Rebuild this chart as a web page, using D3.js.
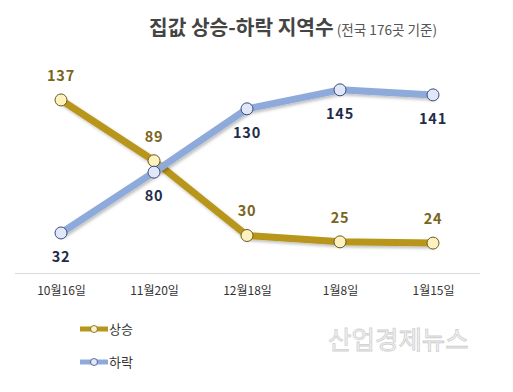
<!DOCTYPE html>
<html><head><meta charset="utf-8">
<script src="https://cdn.jsdelivr.net/npm/d3@7"></script>
<style>body{margin:0;background:#fff;}svg{display:block;}</style>
</head><body>
<svg id="c" width="513" height="392"></svg>
<script>
const categories = ["10월16일","11월20일","12월18일","1월8일","1월15일"];
const riseValues = [137, 89, 30, 25, 24];
const fallValues = [32, 80, 130, 145, 141];
const seriesNames = ["상승","하락"];

const svg = d3.select("#c");
const font = "'Noto Sans CJK KR','Noto Sans',sans-serif";

const defs = svg.append("defs");
const f = defs.append("filter").attr("id","sh").attr("x","-20%").attr("y","-20%").attr("width","140%").attr("height","160%");
f.append("feDropShadow").attr("dx",1.5).attr("dy",2).attr("stdDeviation",1.5).attr("flood-color","#000").attr("flood-opacity",0.25);

const x = d3.scalePoint().domain(categories).range([61,433]);
const y = d3.scaleLinear().domain([0,150]).range([273.5,273.5-150*1.2667]);

// title
const t = svg.append("text").attr("x",149).attr("y",35).attr("font-family",font);
t.append("tspan").text("집값 상승-하락 지역수").attr("font-size",20.3).attr("font-weight","bold").attr("fill","#444");
t.append("tspan").text(" (전국 176곳 기준)").attr("font-size",13.6).attr("fill","#555");

// axis
const xAxis = d3.axisBottom(x).tickSize(0).tickPadding(13);
const ax = svg.append("g").attr("transform","translate(0,273.5)").call(xAxis);
ax.select(".domain").remove();
ax.append("line").attr("x1",15).attr("x2",480).attr("stroke","#d9d9d9").attr("stroke-width",1);
ax.selectAll(".tick text").attr("font-family",font).attr("font-size",12).attr("fill","#333");

const line = d3.line().x((d,i)=>x(categories[i])).y(d=>y(d));

const series = [
  {name:seriesNames[0], vals:riseValues, color:"#b8961c", fill:"#fdf1bd", stroke:"#6b5a24", lab:"#7a6420", above:true},
  {name:seriesNames[1], vals:fallValues, color:"#8eaada", fill:"#dfe7f8", stroke:"#3b4b7e", lab:"#1f2d4a", above:false}
];

series.forEach(s=>{
  svg.append("path").datum(s.vals).attr("d",line).attr("fill","none")
    .attr("stroke",s.color).attr("stroke-width",7).attr("stroke-linejoin","round").attr("filter","url(#sh)");
});
series.forEach(s=>{
  svg.append("g").selectAll("circle").data(s.vals).join("circle")
    .attr("cx",(d,i)=>x(categories[i])).attr("cy",d=>y(d)).attr("r",6)
    .attr("fill",s.fill).attr("stroke",s.stroke).attr("stroke-width",1);
});
series.forEach(s=>{
  svg.append("g").selectAll("text").data(s.vals).join("text")
    .attr("x",(d,i)=>x(categories[i])).attr("y",d=>s.above? y(d)-19 : y(d)+29)
    .attr("text-anchor","middle").attr("font-family",font).attr("font-size",14.5).attr("font-weight","bold")
    .attr("fill",s.lab).attr("letter-spacing",0.8).text(d=>d);
});

// legend
series.forEach((s,i)=>{
  const ly = 329 + i*33;
  svg.append("line").attr("x1",80).attr("x2",108).attr("y1",ly).attr("y2",ly).attr("stroke",s.color).attr("stroke-width",5);
  svg.append("circle").attr("cx",94).attr("cy",ly).attr("r",3.5).attr("fill",s.fill).attr("stroke",s.stroke).attr("stroke-width",0.8);
  svg.append("text").attr("x",109).attr("y",ly+5).attr("font-family",font).attr("font-size",13).attr("fill","#333").text(s.name);
});

// watermark
svg.append("text").attr("x",328).attr("y",349).attr("font-family",font).attr("font-size",25.5)
  .attr("fill","#f4f4f4").attr("stroke","#cfcfcf").attr("stroke-width",0.8).text("산업경제뉴스");
</script>
</body></html>
